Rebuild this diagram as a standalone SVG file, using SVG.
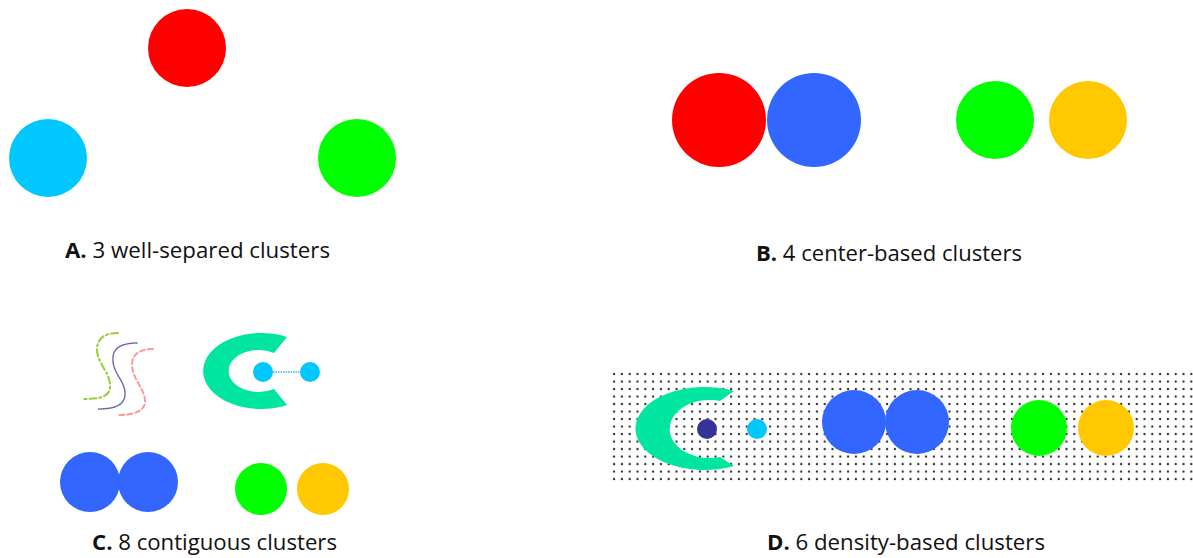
<svg xmlns="http://www.w3.org/2000/svg" width="1193" height="558" viewBox="0 0 1193 558">
  <defs>
    <style>
      .label { font-family: "Open Sans", "Liberation Sans", sans-serif; font-size: 21px; fill: #111111; }
      .label .key { font-weight: bold; }
      .red { fill: #FF0000; }
      .cyan { fill: #00C8FF; }
      .green { fill: #00FF00; }
      .blue { fill: #3366FF; }
      .yellow { fill: #FFC800; }
      .teal { fill: #00E6A0; }
      .navy { fill: #333399; }
      .link { stroke: #33BBEE; stroke-width: 1.5; stroke-dasharray: 1.5 1; fill: none; }
      .curve { fill: none; stroke-linecap: round; }
    </style>
    <!-- halftone dot grid for the density background -->
    <pattern id="dots" x="610.2" y="370.3" width="7.8" height="7.5" patternUnits="userSpaceOnUse">
      <circle cx="3.9" cy="3.75" r="1.15" fill="#2a2a2a"/>
    </pattern>
  </defs>

  <rect width="1193" height="558" fill="#FFFFFF"/>

  <!-- Panel A: well-separated -->
  <g id="a-red"><circle class="red" cx="187" cy="48" r="39"/></g>
  <g id="a-cyan"><circle class="cyan" cx="48" cy="158" r="39"/></g>
  <g id="a-green"><circle class="green" cx="357" cy="158" r="39"/></g>
  <text class="label" x="65" y="258" textLength="265" lengthAdjust="spacingAndGlyphs"><tspan class="key">A.</tspan> 3 well-separed clusters</text>

  <!-- Panel B: center-based -->
  <g id="b-red"><circle class="red" cx="719" cy="120" r="47"/></g>
  <g id="b-blue"><circle class="blue" cx="814" cy="120" r="47"/></g>
  <g id="b-green"><circle class="green" cx="995" cy="120" r="39"/></g>
  <g id="b-yellow"><circle class="yellow" cx="1088" cy="120" r="39"/></g>
  <text class="label" x="756" y="261" textLength="266" lengthAdjust="spacingAndGlyphs"><tspan class="key">B.</tspan> 4 center-based clusters</text>

  <!-- Panel C: contiguous -->
  <g id="c-curve-green">
    <path class="curve" d="M118,333 C105,333 98,338 97,348 C96,362 110,372 110,385 C111,397 100,399 83,399" stroke="#99CC33" stroke-width="2" stroke-dasharray="7 3 2 3"/>
  </g>
  <g id="c-curve-navy">
    <path class="curve" d="M137,343 C122,343 113,348 113,358 C112,372 124,380 125,392 C126,405 115,409 98,409" stroke="#6666AA" stroke-width="1.5" stroke-dasharray="1 1.2"/>
  </g>
  <g id="c-curve-pink">
    <path class="curve" d="M153,349 C140,349 132,354 132,365 C132,378 144,388 145,400 C146,412 132,415 117,415" stroke="#FF9999" stroke-width="2" stroke-dasharray="5 3"/>
  </g>
  <g id="c-crescent">
    <path class="teal" d="M287,337 A58,38 0 1 0 287,405 L274,389 A30,21 0 1 1 274,353 Z"/>
  </g>
  <g id="connectors">
    <line class="link" x1="273" y1="372" x2="300" y2="372"/>
  </g>
  <g id="c-cyan-left"><circle class="cyan" cx="263" cy="372" r="10"/></g>
  <g id="c-cyan-right"><circle class="cyan" cx="310" cy="372" r="10"/></g>
  <g id="c-blue-left"><circle class="blue" cx="90" cy="482" r="30"/></g>
  <g id="c-blue-right"><circle class="blue" cx="148" cy="482" r="30"/></g>
  <g id="c-green"><circle class="green" cx="261" cy="489" r="26"/></g>
  <g id="c-yellow"><circle class="yellow" cx="323" cy="489" r="26"/></g>
  <text class="label" x="92" y="550" textLength="245" lengthAdjust="spacingAndGlyphs"><tspan class="key">C.</tspan> 8 contiguous clusters</text>

  <!-- Panel D: density-based -->
  <rect x="611" y="370" width="582" height="114" fill="url(#dots)"/>
  <g id="d-crescent">
    <path class="teal" d="M734,391 A69,41.5 0 1 0 734,466 L720,457 A40,29 0 1 1 720,401 Z"/>
  </g>
  <g id="d-navy"><circle class="navy" cx="707" cy="429" r="10"/></g>
  <g id="d-cyan"><circle class="cyan" cx="757" cy="429" r="10"/></g>
  <g id="d-blue-left"><circle class="blue" cx="854" cy="422" r="32"/></g>
  <g id="d-blue-right"><circle class="blue" cx="917" cy="422" r="32"/></g>
  <g id="d-green"><circle class="green" cx="1039" cy="428" r="28"/></g>
  <g id="d-yellow"><circle class="yellow" cx="1106" cy="428" r="28"/></g>
  <text class="label" x="767" y="550" textLength="278" lengthAdjust="spacingAndGlyphs"><tspan class="key">D.</tspan> 6 density-based clusters</text>
</svg>
